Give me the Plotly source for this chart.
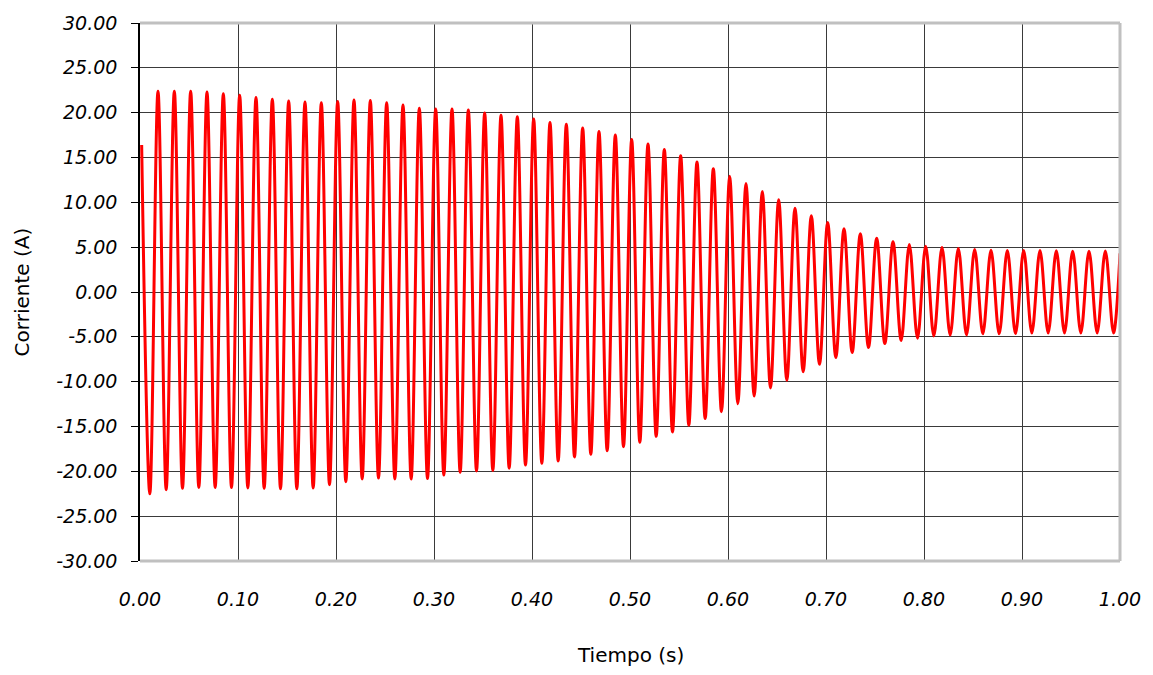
import plotly.graph_objects as go

# ---- data (current waveform, 60 Hz) ----
FIRST_PEAK_TIME = 0.0017          # s, time of first positive peak
PERIOD = 1 / 60                   # s, one cycle
END_VALUE = 4.3                   # A at t = 1.0

peak_values = [
    16.4, 22.4, 22.4, 22.4, 22.3, 22.1, 21.95, 21.7, 21.5, 21.3,
    21.2, 21.1, 21.25, 21.4, 21.35, 21.1, 20.85, 20.5, 20.4, 20.4,
    20.3, 19.95, 19.7, 19.55, 19.3, 18.9, 18.7, 18.3, 17.9, 17.5,
    17.0, 16.5, 15.9, 15.2, 14.5, 13.75, 12.9, 12.1, 11.2, 10.3,
    9.35, 8.5, 7.75, 7.05, 6.5, 6.0, 5.6, 5.3, 5.1, 4.95,
    4.85, 4.75, 4.65, 4.62, 4.62, 4.62, 4.6, 4.55, 4.55, 4.58,
]
trough_values = [
    -22.5, -22.05, -21.9, -21.8, -21.8, -21.8, -21.85, -21.9, -21.95, -21.95,
    -21.85, -21.5, -21.15, -20.85, -20.75, -20.85, -20.85, -20.8, -20.4, -20.1,
    -19.95, -19.9, -19.65, -19.3, -19.1, -18.85, -18.4, -18.1, -17.7, -17.25,
    -16.75, -16.1, -15.6, -14.85, -14.1, -13.35, -12.45, -11.6, -10.7, -9.85,
    -8.9, -8.07, -7.3, -6.75, -6.2, -5.75, -5.4, -5.15, -4.9, -4.8,
    -4.8, -4.67, -4.67, -4.64, -4.57, -4.57, -4.57, -4.57, -4.57, -4.57,
]

x_tick_vals = [0.0, 0.1, 0.2, 0.3, 0.4, 0.5, 0.6, 0.7, 0.8, 0.9, 1.0]
x_tick_text = ["0.00", "0.10", "0.20", "0.30", "0.40", "0.50",
               "0.60", "0.70", "0.80", "0.90", "1.00"]
y_tick_vals = [30, 25, 20, 15, 10, 5, 0, -5, -10, -15, -20, -25, -30]
y_tick_text = ["30.00", "25.00", "20.00", "15.00", "10.00", "5.00", "0.00",
               "-5.00", "-10.00", "-15.00", "-20.00", "-25.00", "-30.00"]

# ---- assemble the sampled extrema sequence ----
t = []
i_vals = []
for k, (p, q) in enumerate(zip(peak_values, trough_values)):
    t.append(FIRST_PEAK_TIME + k * PERIOD)
    i_vals.append(p)
    t.append(FIRST_PEAK_TIME + (k + 0.5) * PERIOD)
    i_vals.append(q)
t.append(1.0)
i_vals.append(END_VALUE)

fig = go.Figure()
fig.add_trace(go.Scatter(
    x=t, y=i_vals, mode="lines",
    line=dict(color="#FF0000", width=3, shape="spline", smoothing=1.0),
    hoverinfo="skip", showlegend=False,
))

tick_font = dict(family="DejaVu Sans", size=19, color="#000000", style="italic")
grid_col = "#3a3a3a"

fig.update_layout(
    width=1153, height=675,
    margin=dict(l=140, r=30, t=20, b=114),
    paper_bgcolor="white", plot_bgcolor="white",
    xaxis=dict(
        range=[0, 1], tickvals=x_tick_vals, ticktext=x_tick_text,
        showgrid=True, gridcolor=grid_col, gridwidth=1,
        zeroline=False, showline=False, ticks="",
        tickfont=tick_font, ticklabelstandoff=25,
    ),
    yaxis=dict(
        range=[-30, 30], tickvals=y_tick_vals, ticktext=y_tick_text,
        showgrid=True, gridcolor=grid_col, gridwidth=1,
        zeroline=True, zerolinecolor=grid_col, zerolinewidth=1,
        showline=True, linecolor="#000000", linewidth=1.5,
        ticks="outside", ticklen=7, tickcolor="#000000", tickwidth=1,
        tickfont=tick_font, ticklabelstandoff=10,
    ),
    shapes=[
        dict(type="line", xref="paper", yref="paper", x0=0, x1=1, y0=1, y1=1,
             line=dict(color="#c0c0c0", width=3)),
        dict(type="line", xref="paper", yref="paper", x0=1, x1=1, y0=0, y1=1,
             line=dict(color="#c0c0c0", width=3)),
        dict(type="line", xref="paper", yref="paper", x0=0, x1=1, y0=0, y1=0,
             line=dict(color="#c0c0c0", width=3)),
    ],
    annotations=[
        dict(text="Corriente (A)", xref="paper", yref="paper", x=-0.12, y=0.5,
             xanchor="center", yanchor="middle", textangle=-90, showarrow=False,
             font=dict(family="DejaVu Sans", size=20, color="#000000")),
        dict(text="Tiempo (s)", xref="paper", yref="paper", x=0.5, y=-0.174,
             xanchor="center", yanchor="middle", showarrow=False,
             font=dict(family="DejaVu Sans", size=20, color="#000000")),
    ],
)

fig.write_html("out.html")
